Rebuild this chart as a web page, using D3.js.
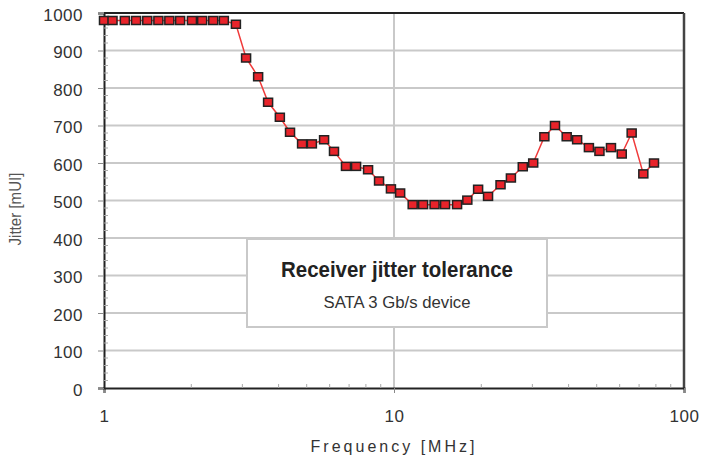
<!DOCTYPE html>
<html>
<head>
<meta charset="utf-8">
<script src="https://cdn.jsdelivr.net/npm/d3@7"></script>
<style>
  body { margin: 0; background: #fff; overflow: hidden; }
  .tick-label { font-family: 'Liberation Sans', Arial, sans-serif; font-size: 17px; fill: #333; letter-spacing: 0.5px; }
</style>
</head>
<body>
<div id="chart"></div>
<script>
// Frequency (MHz)
const freq = [1.0, 1.07, 1.18, 1.29, 1.41, 1.54, 1.68, 1.83, 2.01, 2.18, 2.38, 2.59,
  2.85, 3.09, 3.40, 3.68, 4.04, 4.38, 4.82, 5.21, 5.74, 6.21, 6.83, 7.40, 8.14, 8.88,
  9.76, 10.5, 11.6, 12.6, 13.8, 15.0, 16.5, 17.9, 19.5, 21.1, 23.3, 25.3, 27.8, 30.2,
  33.0, 35.9, 39.4, 42.8, 47.0, 51.1, 56.0, 61.0, 66.0, 72.4, 78.8]

// Jitter (mUI)
const jitter = [980, 980, 980, 980, 980, 980, 980, 980, 980, 980, 980, 980,
  970, 880, 830, 762, 722, 682, 651, 651, 662, 631, 591, 591, 582, 552,
  531, 520, 489, 489, 489, 489, 489, 501, 530, 511, 542, 560, 590, 600,
  670, 700, 670, 662, 641, 631, 641, 624, 680, 571, 600]

const xTicks = [1, 10, 100]
const xMinor = [2, 3, 4, 5, 6, 7, 8, 9, 20, 30, 40, 50, 60, 70, 80, 90]
const yTicks = [0, 100, 200, 300, 400, 500, 600, 700, 800, 900, 1000]

const title = 'Receiver jitter tolerance'
const subtitle = 'SATA 3 Gb/s device'

const data = freq.map((f, i) => ({ f, v: jitter[i] }))

// Vars for dimensions
const width = 702
const height = 460
const margin = { top: 13, right: 18, bottom: 72, left: 104 }
const innerWidth = width - margin.left - margin.right
const innerHeight = height - margin.top - margin.bottom

const svg = d3.select('#chart')
  .append('svg')
  .attr('width', width)
  .attr('height', height)
  .style('display', 'block')

const g = svg.append('g')
  .attr('transform', `translate(${margin.left}, ${margin.top})`)

const xScale = d3.scaleLog().domain([1, 100]).range([0, innerWidth])
const yScale = d3.scaleLinear().domain([0, 1000]).range([innerHeight, 0])

// Horizontal gridlines
g.append('g')
  .selectAll('line')
  .data(yTicks.slice(1, -1))
  .join('line')
  .attr('x1', 0)
  .attr('x2', innerWidth)
  .attr('y1', d => yScale(d))
  .attr('y2', d => yScale(d))
  .attr('stroke', '#c9c9c9')
  .attr('stroke-width', 2)

// Vertical gridline at 10
g.append('line')
  .attr('x1', xScale(10))
  .attr('x2', xScale(10))
  .attr('y1', 0)
  .attr('y2', innerHeight)
  .attr('stroke', '#c9c9c9')
  .attr('stroke-width', 2)

// Top and right border
g.append('line')
  .attr('x1', 0).attr('x2', innerWidth)
  .attr('y1', 0).attr('y2', 0)
  .attr('stroke', '#222').attr('stroke-width', 2)
g.append('line')
  .attr('x1', innerWidth).attr('x2', innerWidth)
  .attr('y1', 0).attr('y2', innerHeight)
  .attr('stroke', '#444').attr('stroke-width', 2.5)

// Bottom axis - frequency
const xAxis = g.append('g')
  .attr('transform', `translate(0, ${innerHeight})`)
  .call(d3.axisBottom(xScale).tickValues(xTicks).tickFormat(d3.format('d')).tickSize(5).tickPadding(17))
xAxis.select('.domain').attr('stroke', '#222').attr('stroke-width', 2)
xAxis.selectAll('.tick line').attr('stroke', '#888')
xAxis.selectAll('text').attr('class', 'tick-label')

// Minor x ticks, pointing inward
g.append('g')
  .selectAll('line')
  .data(xMinor)
  .join('line')
  .attr('x1', d => xScale(d))
  .attr('x2', d => xScale(d))
  .attr('y1', innerHeight)
  .attr('y2', innerHeight - 4)
  .attr('stroke', '#aaa')

// Left axis - jitter
const yAxis = g.append('g')
  .call(d3.axisLeft(yScale).tickValues(yTicks).tickFormat(d3.format('d')).tickSize(6).tickPadding(15))
yAxis.select('.domain').attr('stroke', '#222').attr('stroke-width', 2)
yAxis.selectAll('.tick line').attr('stroke', '#888')
yAxis.selectAll('text').attr('class', 'tick-label').attr('dy', '0.42em')

// Minor y ticks every 20, pointing inward
g.append('g')
  .selectAll('line')
  .data(d3.range(20, 1000, 20).filter(d => d % 100 !== 0))
  .join('line')
  .attr('x1', 0)
  .attr('x2', 4)
  .attr('y1', d => yScale(d))
  .attr('y2', d => yScale(d))
  .attr('stroke', '#aaa')

// Axis titles
svg.append('text')
  .attr('x', margin.left + xScale(10))
  .attr('y', 452)
  .attr('text-anchor', 'middle')
  .style('font-family', "'Liberation Sans', Arial, sans-serif")
  .style('font-size', '16px')
  .style('letter-spacing', '3px')
  .attr('fill', '#333')
  .text('Frequency [MHz]')

svg.append('text')
  .attr('transform', `translate(21, 209) rotate(-90)`)
  .attr('text-anchor', 'middle')
  .attr('textLength', 73)
  .attr('lengthAdjust', 'spacingAndGlyphs')
  .style('font-family', "'Liberation Sans', sans-serif")
  .style('font-size', '16px')
  .attr('fill', '#555')
  .text('Jitter [mUI]')

// Annotation box
const box = { x: 143, y: 226, w: 300, h: 88 }
g.append('rect')
  .attr('x', box.x)
  .attr('y', box.y)
  .attr('width', box.w)
  .attr('height', box.h)
  .attr('fill', '#fff')
  .attr('stroke', '#c9c9c9')
  .attr('stroke-width', 2)

g.append('text')
  .attr('x', box.x + box.w / 2)
  .attr('y', box.y + 38)
  .attr('text-anchor', 'middle')
  .attr('textLength', 232)
  .attr('lengthAdjust', 'spacingAndGlyphs')
  .style('font-family', "'Liberation Sans', sans-serif")
  .style('font-size', '22px')
  .style('font-weight', 'bold')
  .attr('fill', '#222')
  .text(title)

g.append('text')
  .attr('x', box.x + box.w / 2)
  .attr('y', box.y + 69)
  .attr('text-anchor', 'middle')
  .attr('textLength', 147)
  .attr('lengthAdjust', 'spacingAndGlyphs')
  .style('font-family', "'Liberation Sans', sans-serif")
  .style('font-size', '16px')
  .attr('fill', '#333')
  .text(subtitle)

// Data line
const line = d3.line()
  .x(d => xScale(d.f))
  .y(d => yScale(d.v))

g.append('path')
  .datum(data)
  .attr('fill', 'none')
  .attr('stroke', '#f03a3a')
  .attr('stroke-width', 1.5)
  .attr('d', line)

// Square markers
g.append('g')
  .selectAll('rect')
  .data(data)
  .join('rect')
  .attr('x', d => xScale(d.f) - 4.5)
  .attr('y', d => yScale(d.v) - 4)
  .attr('width', 9)
  .attr('height', 8)
  .attr('fill', '#e8232a')
  .attr('stroke', '#222')
  .attr('stroke-width', 1.5)
</script>
</body>
</html>
